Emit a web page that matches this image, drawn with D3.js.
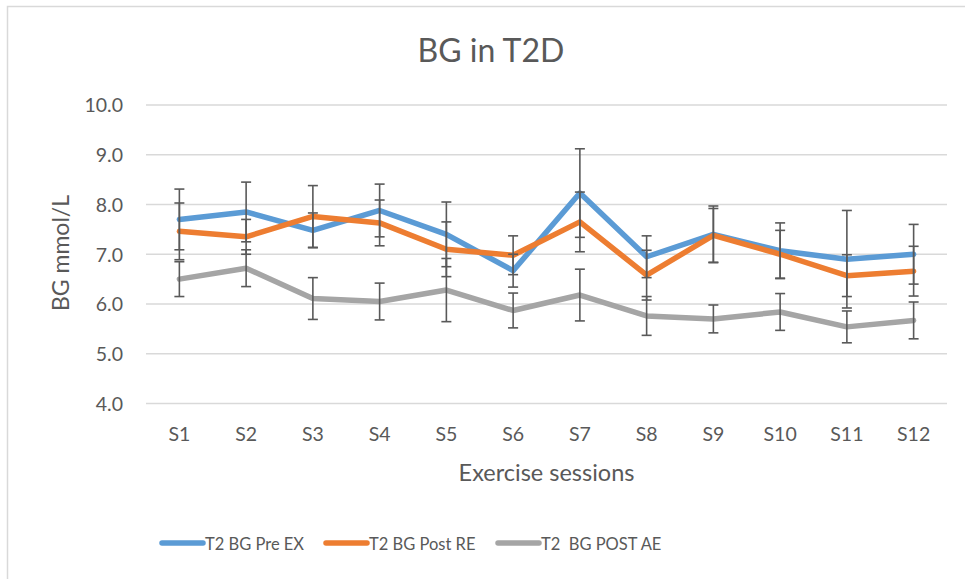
<!DOCTYPE html>
<html>
<head>
<meta charset="utf-8">
<script src="https://cdn.jsdelivr.net/npm/d3@7"></script>
<style>
  html, body { margin: 0; padding: 0; background: #fff; }
  svg { display: block; font-family: Lato, "Open Sans", sans-serif; }
</style>
</head>
<body>
<svg id="chart" width="965" height="579"></svg>
<script>
// ---- data ----
const categories = ["S1","S2","S3","S4","S5","S6","S7","S8","S9","S10","S11","S12"];
const preEx     = [7.70, 7.85, 7.48, 7.88, 7.40, 6.67, 8.23, 6.95, 7.40, 7.07, 6.90, 7.00];
const preExErr  = [0.61, 0.60, 0.35, 0.53, 0.65, 0.33, 0.89, 0.42, 0.57, 0.56, 0.98, 0.60];
const postRe    = [7.46, 7.35, 7.76, 7.63, 7.10, 6.98, 7.65, 6.58, 7.38, 7.00, 6.57, 6.66];
const postReErr = [0.57, 0.35, 0.62, 0.46, 0.55, 0.39, 0.60, 0.50, 0.54, 0.48, 0.42, 0.50];
const postAe    = [6.50, 6.72, 6.11, 6.05, 6.28, 5.87, 6.18, 5.76, 5.70, 5.84, 5.54, 5.67];
const postAeErr = [0.35, 0.37, 0.42, 0.37, 0.635, 0.35, 0.52, 0.39, 0.28, 0.37, 0.32, 0.37];
const seriesNames = ["T2 BG Pre EX", "T2 BG Post RE", "T2  BG POST AE"];
const yTicks = [4, 5, 6, 7, 8, 9, 10];
const chartTitle = "BG in T2D";
const xTitle = "Exercise sessions";
const yTitle = "BG mmol/L";

const colors = ["#5B9BD5", "#ED7D31", "#A5A5A5"];
const series = [
  {name: seriesNames[0], values: preEx,  err: preExErr,  color: colors[0]},
  {name: seriesNames[1], values: postRe, err: postReErr, color: colors[1]},
  {name: seriesNames[2], values: postAe, err: postAeErr, color: colors[2]}
];

const svg = d3.select("#chart");
const textColor = "#595959";

// outer chart border (top and left visible)
svg.append("rect")
  .attr("x", 7.5).attr("y", 6.5)
  .attr("width", 1000).attr("height", 1000)
  .attr("fill", "#fff").attr("stroke", "#D9D9D9").attr("stroke-width", 1.5);

const plot = {left: 146, right: 947, top: 105, bottom: 403.5};

const x = d3.scaleBand().domain(categories).range([plot.left, plot.right]);
const xc = c => x(c) + x.bandwidth() / 2;
const y = d3.scaleLinear().domain([4, 10]).range([plot.bottom, plot.top]);

// gridlines
svg.append("g").selectAll("line").data(yTicks).join("line")
  .attr("x1", plot.left).attr("x2", plot.right)
  .attr("y1", d => y(d)).attr("y2", d => y(d))
  .attr("stroke", "#D9D9D9").attr("stroke-width", 1.3);

// y axis labels
const yAxis = d3.axisLeft(y).tickValues(yTicks).tickFormat(d3.format(".1f")).tickSize(0).tickPadding(0);
const yg = svg.append("g").attr("transform", `translate(${123},0)`).call(yAxis);
yg.select(".domain").remove();
yg.selectAll("text").attr("fill", textColor).style("font-size", "19.5px").style("font-family", "Lato").attr("dy", "0.35em");

// x axis labels
const xAxis = d3.axisBottom(x).tickSize(0).tickPadding(0);
const xg = svg.append("g").attr("transform", `translate(0,${427})`).call(xAxis);
xg.select(".domain").remove();
xg.selectAll("text").attr("fill", textColor).style("font-size", "19.5px").style("font-family", "Lato").attr("dy", "0.71em");

// lines
const line = d3.line().x((d, i) => xc(categories[i])).y(d => y(d));
svg.append("g").selectAll("path").data(series).join("path")
  .attr("d", s => line(s.values))
  .attr("fill", "none")
  .attr("stroke", s => s.color)
  .attr("stroke-width", 5.5)
  .attr("stroke-linejoin", "round")
  .attr("stroke-linecap", "round");

// error bars
const eg = svg.append("g").attr("stroke", "#595959").attr("stroke-width", 1.6);
series.forEach(s => {
  s.values.forEach((v, i) => {
    const cx = xc(categories[i]);
    const hi = y(v + s.err[i]), lo = y(v - s.err[i]);
    eg.append("line").attr("x1", cx).attr("x2", cx).attr("y1", hi).attr("y2", lo);
    eg.append("line").attr("x1", cx - 5).attr("x2", cx + 5).attr("y1", hi).attr("y2", hi);
    eg.append("line").attr("x1", cx - 5).attr("x2", cx + 5).attr("y1", lo).attr("y2", lo);
  });
});

// title
svg.append("text").attr("x", 491).attr("y", 62).attr("text-anchor", "middle")
  .attr("fill", textColor).style("font-size", "32px").text(chartTitle);

// axis titles
svg.append("text").attr("x", (plot.left + plot.right) / 2).attr("y", 481).attr("text-anchor", "middle")
  .attr("fill", textColor).style("font-size", "23.5px").text(xTitle);
svg.append("text").attr("transform", "translate(69,253) rotate(-90)").attr("text-anchor", "middle")
  .attr("fill", textColor).style("font-size", "23px").text(yTitle);

// legend
const legendX = [162, 326, 498];
const lg = svg.append("g");
series.forEach((s, i) => {
  lg.append("line").attr("x1", legendX[i]).attr("x2", legendX[i] + 41)
    .attr("y1", 543).attr("y2", 543)
    .attr("stroke", s.color).attr("stroke-width", 5.5).attr("stroke-linecap", "round");
  lg.append("text").attr("x", legendX[i] + 43).attr("y", 549.5)
    .attr("fill", textColor).style("font-size", "16.5px").style("white-space", "pre")
    .attr("xml:space", "preserve").text(s.name);
});
</script>
</body>
</html>
